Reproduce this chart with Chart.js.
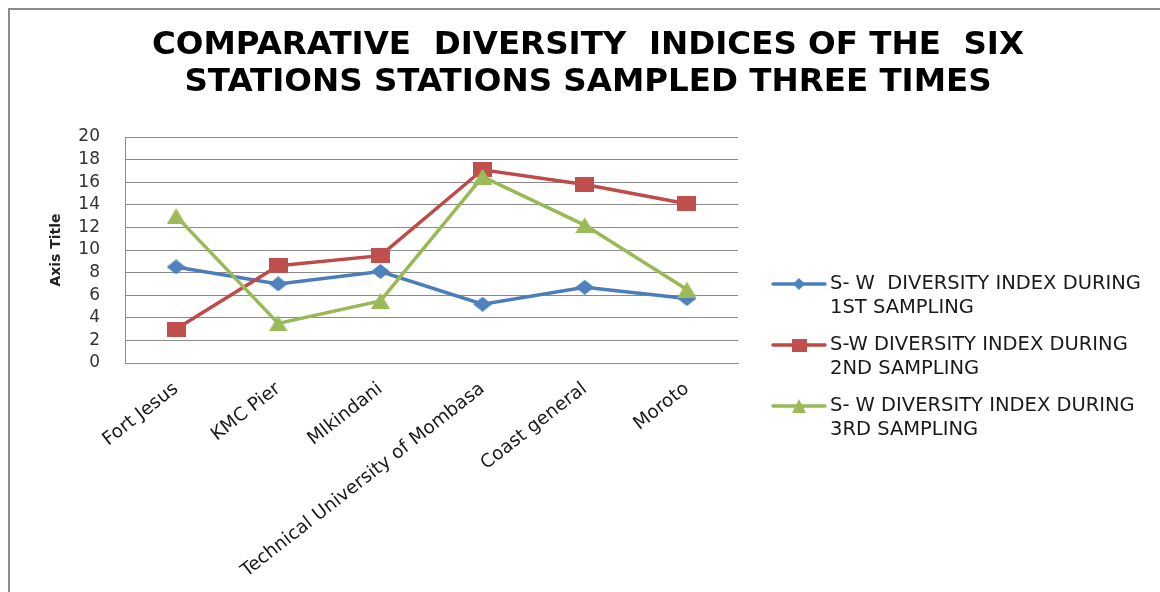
<!DOCTYPE html>
<html>
<head>
<meta charset="utf-8">
<title>Diversity indices</title>
<script src="https://cdn.jsdelivr.net/npm/chart.js@4.4.1/dist/chart.umd.min.js"></script>
<style>
  html, body { margin: 0; padding: 0; background: #fff; overflow: hidden; }
  #wrap { position: relative; width: 1160px; height: 592px; overflow: hidden; }
  #frame { position: absolute; left: 8px; top: 8px; width: 1200px; height: 640px;
           border-left: 2px solid #8c8c8c; border-top: 2px solid #8c8c8c; }
  #chart { position: absolute; left: 0; top: 0; }
</style>
</head>
<body>
<div id="wrap">
  <div id="frame"></div>
  <canvas id="chart" width="1160" height="592"></canvas>
</div>
<script>
const stations = ['Fort Jesus', 'KMC Pier', 'MIkindani', 'Technical University of Mombasa', 'Coast general', 'Moroto'];

const sampling1 = [8.5, 7.0, 8.1, 5.2, 6.7, 5.7];
const sampling2 = [3.0, 8.6, 9.5, 17.1, 15.8, 14.1];
const sampling3 = [13.0, 3.5, 5.5, 16.5, 12.2, 6.5];

const seriesNames = [
  ['S- W  DIVERSITY INDEX DURING', '1ST SAMPLING'],
  ['S-W DIVERSITY INDEX DURING', '2ND SAMPLING'],
  ['S- W DIVERSITY INDEX DURING', '3RD SAMPLING']
];

const titleLines = ['COMPARATIVE  DIVERSITY  INDICES OF THE  SIX', 'STATIONS STATIONS SAMPLED THREE TIMES'];

const FONT = 'DejaVu Sans';
const GRID = '#8a8a8a';

// small canvases used as point markers (they are a bit wider than tall)
function makeMarker(shape, color, w, h) {
  const c = document.createElement('canvas');
  c.width = w; c.height = h;
  const g = c.getContext('2d');
  g.fillStyle = color;
  g.beginPath();
  if (shape === 'diamond') {
    g.moveTo(w / 2, 0); g.lineTo(w, h / 2); g.lineTo(w / 2, h); g.lineTo(0, h / 2);
  } else if (shape === 'triangle') {
    g.moveTo(w / 2, 0); g.lineTo(w, h); g.lineTo(0, h);
  } else {
    g.rect(0, 0, w, h);
  }
  g.closePath();
  g.fill();
  return c;
}

const blue = { line: '#4A7EBB', fill: '#4F81BD' };
const red = { line: '#BE4B48', fill: '#C0504D' };
const green = { line: '#98B954', fill: '#9BBB59' };

const markers = [
  makeMarker('diamond', blue.fill, 19, 15),
  makeMarker('square', red.fill, 19, 15),
  makeMarker('triangle', green.fill, 19, 16)
];
const legendMarkers = [
  makeMarker('diamond', blue.fill, 12, 12),
  makeMarker('square', red.fill, 15, 13),
  makeMarker('triangle', green.fill, 14, 14)
];

function series(i, values, col, order) {
  return {
    label: seriesNames[i].join(' '),
    data: values,
    borderColor: col.line,
    backgroundColor: col.fill,
    borderWidth: 3.5,
    tension: 0,
    pointStyle: markers[i],
    order: order
  };
}

// legend on the right, two text lines per series
const sideLegend = {
  id: 'sideLegend',
  afterDraw(chart) {
    const { ctx, chartArea } = chart;
    const x0 = chartArea.right + 35;
    const x1 = x0 + 52;
    const tx = x1 + 5;
    ctx.save();
    ctx.font = '19.5px "' + FONT + '"';
    ctx.fillStyle = '#1a1a1a';
    ctx.textBaseline = 'middle';
    ctx.textAlign = 'left';
    chart.data.datasets.forEach((ds, i) => {
      const y = chartArea.top + 147 + i * 61;
      ctx.strokeStyle = ds.borderColor;
      ctx.lineWidth = 3.5;
      ctx.lineCap = 'round';
      ctx.beginPath();
      ctx.moveTo(x0, y);
      ctx.lineTo(x1, y);
      ctx.stroke();
      const m = legendMarkers[i];
      ctx.drawImage(m, (x0 + x1) / 2 - m.width / 2, y - m.height / 2);
      seriesNames[i].forEach((t, k) => ctx.fillText(t, tx, y + k * 24));
    });
    ctx.restore();
  }
};

new Chart(document.getElementById('chart'), {
  type: 'line',
  data: {
    labels: stations,
    datasets: [
      series(0, sampling1, blue, 3),
      series(1, sampling2, red, 2),
      series(2, sampling3, green, 1)
    ]
  },
  options: {
    responsive: false,
    animation: false,
    layout: { padding: { left: 16, right: 0, top: 0, bottom: 0 } },
    plugins: {
      legend: { display: false },
      tooltip: { enabled: false },
      title: {
        display: true,
        text: titleLines,
        color: '#000',
        font: { family: FONT, size: 32.5, weight: 'bold', lineHeight: 37 / 32.5 },
        padding: { top: 27, bottom: 36 }
      }
    },
    scales: {
      x: {
        offset: true,
        grid: { display: false, drawTicks: false },
        border: { display: true, color: GRID, width: 1 },
        ticks: {
          autoSkip: false,
          minRotation: 38,
          maxRotation: 38,
          color: '#1a1a1a',
          padding: 15,
          font: { family: FONT, size: 18.5 }
        },
        afterFit(scale) { scale.height = 229; }
      },
      y: {
        min: 0,
        max: 20,
        grid: { color: GRID, drawTicks: false },
        border: { display: true, color: GRID, width: 1 },
        ticks: {
          stepSize: 2,
          autoSkip: false,
          color: '#333',
          padding: 25,
          font: { family: FONT, size: 17 }
        },
        title: {
          display: true,
          text: 'Axis Title',
          color: '#222',
          font: { family: FONT, size: 14, weight: 'bold' },
          padding: { top: 32, bottom: 0 }
        },
        afterFit(scale) { scale.width = 109; }
      },
      side: {
        type: 'linear',
        position: 'right',
        grid: { display: false, drawTicks: false },
        border: { display: false },
        ticks: { display: false },
        afterFit(scale) { scale.width = 422; }
      }
    }
  },
  plugins: [sideLegend]
});
</script>
</body>
</html>
